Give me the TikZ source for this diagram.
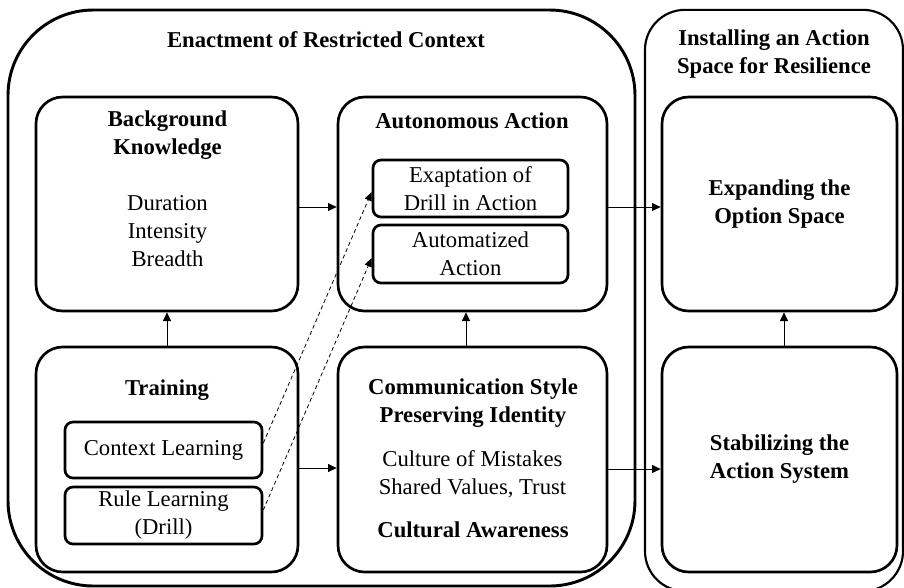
\documentclass[tikz,border=0pt]{standalone}
\usepackage{fontspec}
\setmainfont{Liberation Serif}
\usetikzlibrary{arrows.meta}

\tikzset{every picture/.style={line width=0.75pt}}
\tikzset{
  txt/.style={font=\fontsize{17}{21}\selectfont, align=center, inner sep=0pt},
  head/.style={txt, font=\fontsize{17}{21}\selectfont\bfseries},
  panel/.style={draw, line width=2pt, rounded corners=20pt, inner sep=0pt},
  subpanel/.style={txt, draw, line width=2pt, rounded corners=6pt},
  link/.style={-{Triangle[length=6.5pt,width=6pt]}},
  droplink/.style={dash pattern={on 3pt off 2.2pt}, line width=0.6pt, -{Triangle[length=6.5pt,width=5.5pt]}}
}

\begin{document}
\begin{tikzpicture}[x=0.75pt,y=0.75pt,yscale=-1,xscale=1]
\useasboundingbox (0,0) rectangle (904,587);

%Rounded Rect: restricted context frame
\node [draw, line width=2.2pt, rounded corners=64pt, minimum width=470.25pt, minimum height=432pt] (erc) at (321.5,298) {};
%Rounded Rect: resilience frame (runs off the bottom edge)
\node [draw, line width=1.6pt, rounded corners=30pt, minimum width=193.5pt, minimum height=436pt] (ias) at (774,300.5) {};

%Rounded Rect: panels
\node [panel, minimum width=196.5pt, minimum height=160.5pt] (bk) at (167,204) {};
\node [panel, minimum width=201.75pt, minimum height=160.5pt] (aa) at (472.5,204) {};
\node [panel, minimum width=196.5pt, minimum height=168.75pt] (tr) at (167,459.5) {};
\node [panel, minimum width=201.75pt, minimum height=168.75pt] (cs) at (472.5,459.5) {};
\node [panel, head, minimum width=176.25pt, minimum height=160.5pt] (ep) at (779.5,204) {Expanding the\\Option Space};
\node [panel, head, minimum width=176.25pt, minimum height=168.75pt] (sa) at (779.5,459.5) {Stabilizing the\\Action System};

%Rounded Rect: inner boxes
\node [subpanel, minimum width=146.25pt, minimum height=42.75pt] (ex) at (470.5,188.5) {Exaptation of\\Drill in Action};
\node [subpanel, minimum width=146.25pt, minimum height=43.5pt] (au) at (470.5,254) {Automatized\\Action};
\node [subpanel, minimum width=147.75pt, minimum height=42pt] (cl) at (163.5,450) {Context Learning};
\node [subpanel, minimum width=147.75pt, minimum height=42.75pt] (rl) at (163.5,515.5) {Rule Learning\\(Drill)};

% Text Node
\node [head] (ercT) at (326,40) {Enactment of Restricted Context};
% Text Node
\node [head] (iasT) at (774,54) {Installing an Action\\Space for Resilience};
% Text Node
\node [head] (bkT) at (167.5,135) {Background\\Knowledge};
% Text Node
\node [txt] (bkL) at (167.5,231) {Duration\\Intensity\\Breadth};
% Text Node
\node [head] (aaT) at (472,121) {Autonomous Action};
% Text Node
\node [head] (trT) at (167,390) {Training};
% Text Node
\node [head] (csT) at (473,403) {Communication Style\\Preserving Identity};
% Text Node
\node [txt] (csL) at (472.5,474) {Culture of Mistakes\\Shared Values, Trust};
% Text Node
\node [head] (csB) at (473,530) {Cultural Awareness};

%Straight Lines
\draw [link] (bk.east |- 0,207) -- (aa.west |- 0,207);
\draw [link] (tr.east |- 0,468) -- (cs.west |- 0,468);
\draw [link] (aa.east |- 0,207) -- (ep.west |- 0,207);
\draw [link] (cs.east |- 0,469) -- (sa.west |- 0,469);
\draw [link] (tr.north) -- (bk.south);
\draw [link] (cs.north -| 466,0) -- (aa.south -| 466,0);
\draw [link] (sa.north -| 784,0) -- (ep.south -| 784,0);
%Dashed Lines
\draw [droplink] (cl.east |- 0,443) -- (ex.west |- 0,192);
\draw [droplink] (rl.east |- 0,510) -- (au.west |- 0,258);

\end{tikzpicture}
\end{document}
